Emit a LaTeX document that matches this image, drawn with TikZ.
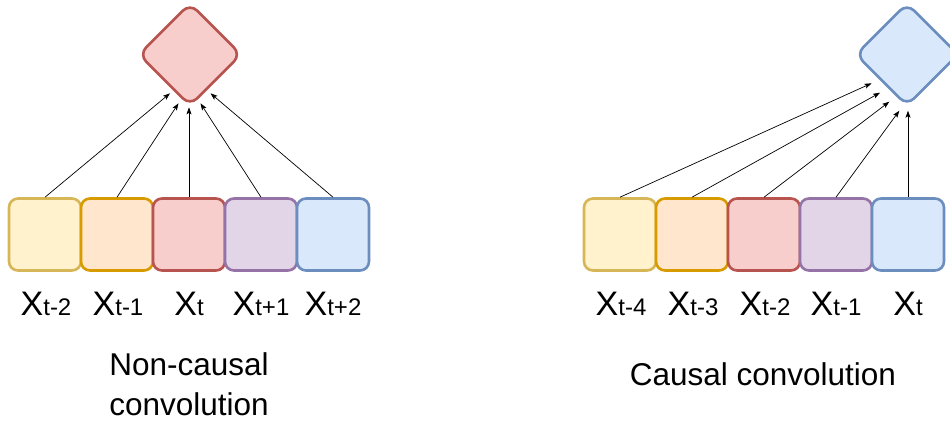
\documentclass[tikz,border=0pt]{standalone}
\usepackage{fontspec}
\setmainfont{Liberation Sans}
\usetikzlibrary{arrows.meta}
\definecolor{yelF}{HTML}{FFF2CC}\definecolor{yelD}{HTML}{D6B656}
\definecolor{orF}{HTML}{FFE6CC}\definecolor{orD}{HTML}{D79B00}
\definecolor{redF}{HTML}{F8CECC}\definecolor{redD}{HTML}{B85450}
\definecolor{puF}{HTML}{E1D5E7}\definecolor{puD}{HTML}{9673A6}
\definecolor{blF}{HTML}{DAE8FC}\definecolor{blD}{HTML}{6C8EBF}
\newcommand\xlab[1]{{\fontsize{34}{34}\selectfont X}{\fontsize{24}{24}\selectfont #1}}
\tikzset{
  cell/.style={draw=#1D, fill=#1F, line width=2.6pt, rounded corners=9pt,
    minimum width=72pt, minimum height=72pt, inner sep=0pt},
  rhomb/.style={draw=#1D, fill=#1F, line width=2.6pt, rounded corners=10pt},
  conn/.style={line width=0.7pt, -{Stealth[length=7pt,width=5pt,inset=1.5pt]}},
  lbl/.style={anchor=base, inner sep=0pt},
  captext/.style={anchor=base, inner sep=0pt, font=\fontsize{31.5}{38}\selectfont}
}
\begin{document}
\begin{tikzpicture}[x=1pt,y=-1pt]
\useasboundingbox (0,0) rectangle (950,424);
% ---- left: non-causal ----
\draw[rhomb=red] (190,3.5) -- (241,54.5) -- (190,105.5) -- (139,54.5) -- cycle;
\node[cell=yel] (a1) at (45,234.5) {};
\node[cell=or]  (a2) at (117,234.5) {};
\node[cell=red] (a3) at (189,234.5) {};
\node[cell=pu]  (a4) at (261,234.5) {};
\node[cell=bl]  (a5) at (333,234.5) {};
\coordinate (ta1) at (170,93.3);
\coordinate (ta2) at (178.5,103.3);
\coordinate (ta3) at (189,107.3);
\coordinate (ta4) at (200.5,103.3);
\coordinate (ta5) at (210.5,93.3);
\draw[conn] (a1.north) -- (ta1);
\draw[conn] (a2.north) -- (ta2);
\draw[conn] (a3.north) -- (ta3);
\draw[conn] (a4.north) -- (ta4);
\draw[conn] (a5.north) -- (ta5);
\node[lbl] (la1) at (46,315) {\xlab{t-2}};
\node[lbl] (la2) at (118,315) {\xlab{t-1}};
\node[lbl] (la3) at (189,315) {\xlab{t}};
\node[lbl] (la4) at (261,315) {\xlab{t+1}};
\node[lbl] (la5) at (333,315) {\xlab{t+2}};
\node[captext] (nc1) at (189,375) {Non-causal};
\node[captext] (nc2) at (189,415) {convolution};
% ---- right: causal ----
\draw[rhomb=bl] (907,3.5) -- (958,54.5) -- (907,105.5) -- (856,54.5) -- cycle;
\node[cell=yel] (b1) at (620,234.5) {};
\node[cell=or]  (b2) at (692,234.5) {};
\node[cell=red] (b3) at (764,234.5) {};
\node[cell=pu]  (b4) at (836,234.5) {};
\node[cell=bl]  (b5) at (908,234.5) {};
\coordinate (tb1) at (871.5,83.3);
\coordinate (tb2) at (880,92.7);
\coordinate (tb3) at (889.3,101.7);
\coordinate (tb4) at (899.3,110.7);
\coordinate (tb5) at (908,110.7);
\draw[conn] (b1.north) -- (tb1);
\draw[conn] (b2.north) -- (tb2);
\draw[conn] (b3.north) -- (tb3);
\draw[conn] (b4.north) -- (tb4);
\draw[conn] (b5.north) -- (tb5);
\node[lbl] (lb1) at (621,315) {\xlab{t-4}};
\node[lbl] (lb2) at (693,315) {\xlab{t-3}};
\node[lbl] (lb3) at (765,315) {\xlab{t-2}};
\node[lbl] (lb4) at (836,315) {\xlab{t-1}};
\node[lbl] (lb5) at (908,315) {\xlab{t}};
\node[captext] (cc) at (763,385) {Causal convolution};
\end{tikzpicture}
\end{document}
